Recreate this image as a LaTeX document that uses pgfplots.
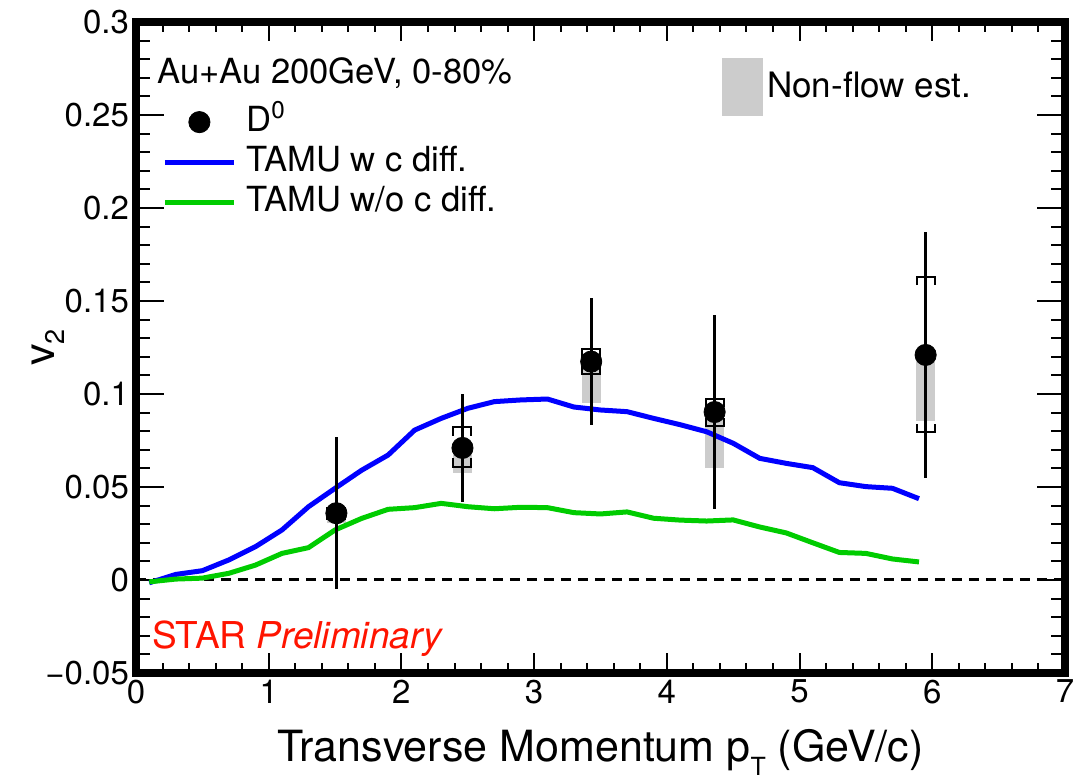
\documentclass[border=0pt]{standalone}
\usepackage{pgfplots}
\usepackage{pgfplotstable}
\pgfplotsset{compat=1.18}
\usepackage{fontspec}
\setmainfont{TeX Gyre Heros}
\definecolor{nonflow}{RGB}{204,204,204}
\definecolor{tgreen}{RGB}{0,204,0}
\definecolor{tblue}{RGB}{0,0,255}
\definecolor{starred}{RGB}{255,20,0}
\newcommand{\ticksize}{\fontsize{16.5}{19}\selectfont}
\newcommand{\legsize}{\fontsize{17.3}{20}\selectfont}
\newcommand{\nfsize}{\fontsize{17.5}{20}\selectfont}
\newcommand{\labsize}{\fontsize{21.5}{24}\selectfont}

% D0 v2: x, y, stat error, non-flow (downward)
\pgfplotstableread{
x     y       stat   nf
1.51  0.0359  0.041  0.0054
2.46  0.0710  0.029  0.0135
3.43  0.1174  0.034  0.0221
4.36  0.0903  0.052  0.0303
5.95  0.1210  0.066  0.0355
}\dzero

% TAMU with charm diffusion
\pgfplotstableread{
x    y
0.1 -0.0015
0.3  0.0030
0.5  0.0050
0.7  0.0108
0.9  0.0179
1.1  0.0269
1.3  0.0394
1.5  0.0493
1.7  0.0590
1.9  0.0672
2.1  0.0806
2.3  0.0869
2.5  0.0923
2.7  0.0959
2.9  0.0968
3.1  0.0973
3.3  0.0930
3.5  0.0914
3.7  0.0905
3.9  0.0869
4.1  0.0835
4.3  0.0797
4.5  0.0735
4.7  0.0654
4.9  0.0627
5.1  0.0604
5.3  0.0523
5.5  0.0502
5.7  0.0493
5.9  0.0437
}\tamuw

% TAMU without charm diffusion
\pgfplotstableread{
x    y
0.1 -0.0010
0.3  0.0005
0.5  0.0010
0.7  0.0036
0.9  0.0080
1.1  0.0143
1.3  0.0174
1.5  0.0269
1.7  0.0331
1.9  0.0380
2.1  0.0389
2.3  0.0412
2.5  0.0394
2.7  0.0383
2.9  0.0391
3.1  0.0389
3.3  0.0362
3.5  0.0355
3.7  0.0366
3.9  0.0332
4.1  0.0322
4.3  0.0317
4.5  0.0323
4.7  0.0285
4.9  0.0253
5.1  0.0200
5.3  0.0148
5.5  0.0143
5.7  0.0113
5.9  0.0097
}\tamuwo

\begin{document}
\begin{tikzpicture}
\useasboundingbox (-68pt,-54pt) rectangle (474pt,336.5pt);
\begin{axis}[
  at={(0pt,0pt)}, anchor=south west,
  scale only axis, width=464.5pt, height=325.5pt,
  xmin=0, xmax=7, ymin=-0.05, ymax=0.3,
  xtick={0,1,2,3,4,5,6,7},
  ytick={-0.05,0,0.05,0.1,0.15,0.2,0.25,0.3},
  yticklabels={−0.05,0,0.05,0.1,0.15,0.2,0.25,0.3},
  minor x tick num=4, minor y tick num=4,
  tick align=inside,
  xtick pos=both, ytick pos=both,
  xticklabel pos=lower, yticklabel pos=left,
  axis line style={line width=4pt},
  tick style={line width=1pt, black},
  xtick style={/pgfplots/major tick length=9.75pt, /pgfplots/minor tick length=4.9pt},
  ytick style={/pgfplots/major tick length=14pt, /pgfplots/minor tick length=7pt},
  /pgf/number format/assume math mode=true,
  ticklabel style={font=\ticksize},
  unbounded coords=jump,
  xlabel={Transverse Momentum p\raisebox{-7pt}{\fontsize{12.5}{12.5}\selectfont T} (GeV/c)},
  xlabel style={font=\labsize, at={(axis description cs:0.5,0)}, anchor=base, yshift=-44.5pt},
  ylabel={v\raisebox{-5pt}{\fontsize{13.5}{13.5}\selectfont 2}},
  ylabel style={font=\labsize, at={(axis description cs:0,0.5)}, anchor=base, yshift=40.5pt},
  legend style={draw=none, fill=none, at={(0.028,0.876)}, anchor=north west,
    font=\legsize, inner sep=0pt, row sep=1pt, legend cell align=left,
    nodes={inner xsep=5pt, inner ysep=1pt, text height=13pt, text depth=4pt}},
  legend image code/.code={\draw[mark repeat=2,mark phase=2,#1] plot coordinates {(0pt,0pt) (17.25pt,0pt) (34.5pt,0pt)};},
]
\addlegendimage{only marks, mark=*, black, mark size=5.3pt}
\addlegendentry{D\textsuperscript{0}}
\addlegendimage{tblue, line width=2.5pt}
\addlegendentry{TAMU w c diff.}
\addlegendimage{tgreen, line width=2.5pt}
\addlegendentry{TAMU w/o c diff.}

% non-flow estimate boxes
\addplot[draw=none, mark=none, forget plot,
  error bars/.cd, y dir=minus, y explicit, error mark=none,
  error bar style={draw=nonflow, line width=9.6pt}]
  table[x=x, y=y, y error=nf] {\dzero};

% zero line
\addplot[black, line width=1.5pt, dash pattern=on 5pt off 3.5pt, forget plot]
  coordinates {(0,0) (7,0)};

% models
\addplot[tblue, line width=2.5pt, forget plot] table[x=x,y=y] {\tamuw};
\addplot[tgreen, line width=2.5pt, forget plot] table[x=x,y=y] {\tamuwo};

% statistical errors
\addplot[draw=none, mark=none, forget plot,
  error bars/.cd, y dir=both, y explicit, error mark=none,
  error bar style={draw=black, line width=1.4pt}]
  table[x=x, y=y, y error=stat] {\dzero};

% systematic brackets
\addplot[black, line width=1pt, forget plot] coordinates {
 (1.442,0.0344) (1.442,0.0389) (1.578,0.0389) (1.578,0.0344) (1.5,nan)
 (1.442,0.0374) (1.442,0.0329) (1.578,0.0329) (1.578,0.0374) (1.5,nan)
 (2.392,0.0775) (2.392,0.0820) (2.528,0.0820) (2.528,0.0775) (2.5,nan)
 (2.392,0.0655) (2.392,0.0610) (2.528,0.0610) (2.528,0.0655) (2.5,nan)
 (3.362,0.1195) (3.362,0.1240) (3.498,0.1240) (3.498,0.1195) (3.5,nan)
 (3.362,0.1152) (3.362,0.1107) (3.498,0.1107) (3.498,0.1152) (3.5,nan)
 (4.292,0.0928) (4.292,0.0973) (4.428,0.0973) (4.428,0.0928) (4.4,nan)
 (4.292,0.0873) (4.292,0.0828) (4.428,0.0828) (4.428,0.0873) (4.4,nan)
 (5.882,0.1585) (5.882,0.1630) (6.018,0.1630) (6.018,0.1585) (6.0,nan)
 (5.882,0.0840) (5.882,0.0795) (6.018,0.0795) (6.018,0.0840)
};

% D0 points
\addplot[only marks, mark=*, black, mark size=5.3pt, forget plot]
  table[x=x, y=y] {\dzero};

\node[anchor=base west, inner sep=0pt, font=\legsize] at (axis cs:0.158,0.2672) {Au+Au 200GeV, 0-80\%};
\node[anchor=base west, inner sep=0pt, text=starred, font=\fontsize{18.5}{20}\selectfont] at (axis cs:0.12,-0.0366) {STAR \textit{Preliminary}};
\end{axis}

\begin{axis}[
  at={(0pt,0pt)}, anchor=south west,
  scale only axis, width=464.5pt, height=325.5pt,
  xmin=0, xmax=7, ymin=-0.05, ymax=0.3, hide axis,
  legend style={draw=none, fill=none, at={(0.6308,0.9009)}, anchor=west,
    font=\nfsize, inner sep=0pt},
  legend image code/.code={\fill[#1] (0pt,-14.25pt) rectangle (20pt,14.25pt);},
]
\addlegendimage{nonflow}
\addlegendentry{Non-flow est.}
\end{axis}
\end{tikzpicture}
\end{document}
